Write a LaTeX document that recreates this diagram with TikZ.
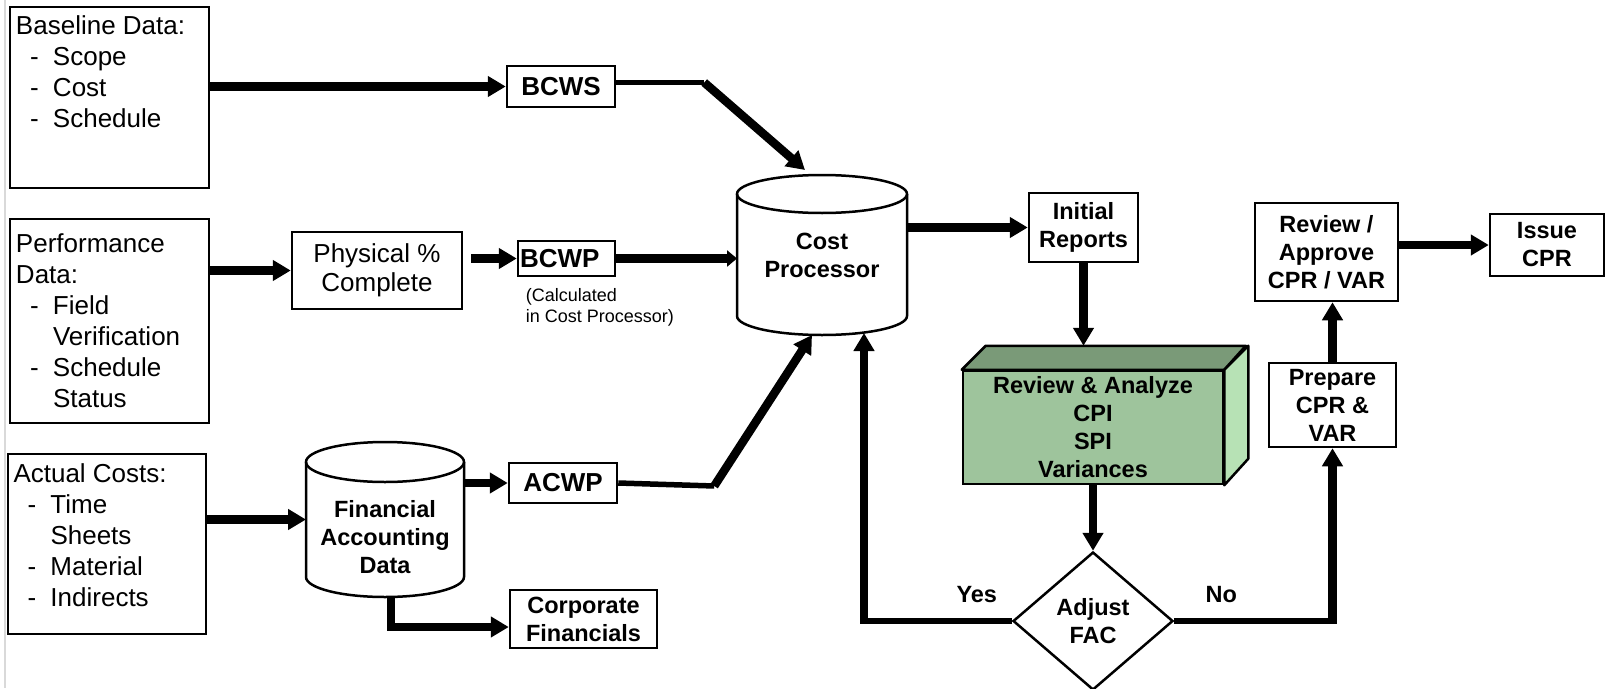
\documentclass[tikz,border=0pt]{standalone}
\usepackage{fontspec}
\setmainfont{Liberation Sans}
\usetikzlibrary{arrows.meta,shapes.geometric}

\definecolor{boxfront}{RGB}{158,196,156}
\definecolor{boxtop}{RGB}{122,154,120}
\definecolor{boxside}{RGB}{183,226,181}

% list entries: a dash and a word; \goon carries a word on to the next line
\newcommand{\dashitem}[1]{\hspace*{14pt}\makebox[23pt][l]{-}#1}
\newcommand{\goon}[1]{\hspace*{37pt}#1}
% drum outline round a store node: node, x radius, y radius of the ends
\newcommand{\storeoutline}[3]{%
  \draw[line width=2.5pt] ([yshift=-#3pt]#1.north) ellipse [x radius=#2pt, y radius=#3pt];
  \draw[line width=2.5pt] ([yshift=-#3pt]#1.north west) -- ([yshift=#3pt]#1.south west)
    arc[start angle=180, end angle=360, x radius=#2pt, y radius=#3pt] -- ([yshift=-#3pt]#1.north east);
}

\tikzset{
  listbox/.style={draw, line width=2.5pt, inner sep=0pt, font=\fontsize{26}{31}\selectfont},
  plainbox/.style={draw, line width=2.5pt, inner sep=0pt, align=center, font=\fontsize{26}{29}\selectfont},
  labelbox/.style={draw, line width=2.5pt, inner sep=0pt, align=center, font=\bfseries\fontsize{23.5}{28}\selectfont},
  valuebox/.style={labelbox, font=\bfseries\fontsize{26}{30}\selectfont},
  store/.style={labelbox, draw=none, outer sep=0pt},
  flow/.style={line width=8.5pt},
  thinflow/.style={line width=5.5pt},
  tip/.style={-{Triangle[length=18pt,width=20pt]}},
  smalltip/.style={-{Triangle[length=10pt,width=16pt]}}
}

\begin{document}
\begin{tikzpicture}[x=1pt, y=-1pt]
  \useasboundingbox (0,0) rectangle (1606,688);
  \draw[gray!30, line width=2pt] (5,0) -- (5,688);

  % input data
  \node[listbox, minimum width=199pt, minimum height=181pt] (baseline) at (109.5,97.5)
    {\parbox[c][163pt][t]{187pt}{Baseline Data:\\ \dashitem{Scope}\\ \dashitem{Cost}\\ \dashitem{Schedule}}};
  \node[listbox, minimum width=199pt, minimum height=204pt] (perf) at (109.5,321)
    {\parbox{187pt}{Performance\\ Data:\\ \dashitem{Field}\\ \goon{Verification}\\ \dashitem{Schedule}\\ \goon{Status}}};
  \node[listbox, minimum width=198pt, minimum height=180pt] (actual) at (107,544)
    {\parbox[c][160pt][t]{187pt}{Actual Costs:\\ \dashitem{Time}\\ \goon{Sheets}\\ \dashitem{Material}\\ \dashitem{Indirects}}};

  \node[plainbox, minimum width=170pt, minimum height=77pt] (phys) at (377,270.5) {Physical \%\\Complete};
  \node[valuebox, minimum width=108pt, minimum height=41pt] (bcws) at (561,86.5) {BCWS};
  \node[valuebox, minimum height=35pt, text width=93pt, align=left, inner xsep=2pt] (bcwp) at (566.5,258.5) {BCWP};
  \node[font=\fontsize{18}{21}\selectfont, align=left, anchor=north west, inner sep=0pt] (calcnote)
    at ([xshift=9pt,yshift=-11pt]bcwp.south west) {(Calculated\\in Cost Processor)};
  \node[valuebox, minimum width=108pt, minimum height=40pt] (acwp) at (563,483) {ACWP};
  \node[labelbox, minimum width=147pt, minimum height=58pt] (corp) at (583.5,619) {Corporate\\Financials};

  % stores
  \node[store, minimum width=170pt, minimum height=160pt] (cp) at (822,255) {Cost\\Processor};
  \storeoutline{cp}{85}{19}
  \node[store, minimum width=158pt, minimum height=155pt] (fin) at (385,519.5) {};
  \storeoutline{fin}{79}{20}
  \node[labelbox, draw=none] (fintext) at ([yshift=-18pt]fin.center) {Financial\\Accounting\\Data};

  % reporting
  \node[labelbox, minimum width=109pt, minimum height=69pt] (initial) at (1083.5,227.5) {Initial\\Reports};
  \node[labelbox, fill=boxfront, minimum width=260pt, minimum height=113pt] (analyze) at (1093,427.5)
    {Review \& Analyze\\CPI\\SPI\\Variances};
  \draw[line width=2.5pt, line join=round, fill=boxtop] (analyze.north west) -- ++(24,-24) -- ++(260,0) -- (analyze.north east) -- cycle;
  \draw[line width=2.5pt, line join=round, fill=boxside] (analyze.north east) -- ++(24,-24) -- ++(0,113) -- (analyze.south east) -- cycle;
  \node[labelbox, diamond, minimum width=160pt, minimum height=138pt] (fac) at (1093,621) {Adjust\\FAC};
  \node[labelbox, minimum width=127pt, minimum height=84pt] (prep) at (1332.5,405) {Prepare\\CPR \&\\VAR};
  \node[labelbox, minimum width=143pt, minimum height=98pt] (approve) at (1326.5,252) {Review /\\Approve\\CPR / VAR};
  \node[labelbox, minimum width=114pt, minimum height=62pt] (issue) at (1547,245) {Issue\\CPR};
  \node[labelbox, draw=none] (yes) at ([xshift=-35pt,yshift=26pt]fac.west) {Yes};
  \node[labelbox, draw=none] (no) at ([xshift=47pt,yshift=26pt]fac.east) {No};

  % connectors
  \coordinate (physout) at ([xshift=8pt]phys.east);
  \coordinate (sbend) at ([xshift=88pt,yshift=4pt]bcws.east);
  \coordinate (abend) at ([xshift=96pt,yshift=-3pt]acwp.east);
  \coordinate (finout) at ([xshift=6pt]fin.south);
  \coordinate (corpin) at ([yshift=-8pt]corp.west);
  \coordinate (topback) at ([yshift=24pt]analyze.north);
  \coordinate (cpin) at ([xshift=42pt,yshift=2pt]cp.south);
  \coordinate (yesbend) at (cpin |- fac.west);
  \coordinate (nobend) at (fac.east -| prep.south);

  \draw[flow, tip] (baseline.east |- bcws.west) -- (bcws.west);
  \draw[flow, tip] (perf.east |- phys.west) -- (phys.west);
  \draw[flow, tip] (actual.east |- fin.west) -- (fin.west);
  \draw[flow, tip] (physout |- bcwp.west) -- (bcwp.west);
  \draw[flow, smalltip] (bcwp.east) -- (bcwp.east -| cp.west);
  \draw[thinflow] ([yshift=4pt]bcws.east) -- (sbend);
  \draw[flow, tip] (sbend) -- ([xshift=-17pt,yshift=5pt]cp.north);
  \draw[flow, tip] (fin.east |- acwp.west) -- (acwp.west);
  \draw[flow, tip] (finout) -- (finout |- corpin) -- (corpin);
  \draw[thinflow] (acwp.east) -- (abend);
  \draw[flow, tip] (abend) -- ([xshift=-10pt]cp.south);
  \draw[flow, tip] (cp.east |- initial.west) -- (initial.west);
  \draw[flow, tip] (initial.south) -- (initial.south |- topback);
  \draw[flow, tip] (analyze.south) -- (fac.north);
  \draw[thinflow] (fac.west) -- ([xshift=-4pt]yesbend);
  \draw[flow, tip] (yesbend) -- (cpin);
  \draw[thinflow] (fac.east) -- ([xshift=4pt]nobend);
  \draw[flow, tip] (nobend) -- (prep.south);
  \draw[flow, tip] (prep.north) -- (prep.north |- approve.south);
  \draw[flow, tip] (approve.east |- issue.west) -- (issue.west);
\end{tikzpicture}
\end{document}
